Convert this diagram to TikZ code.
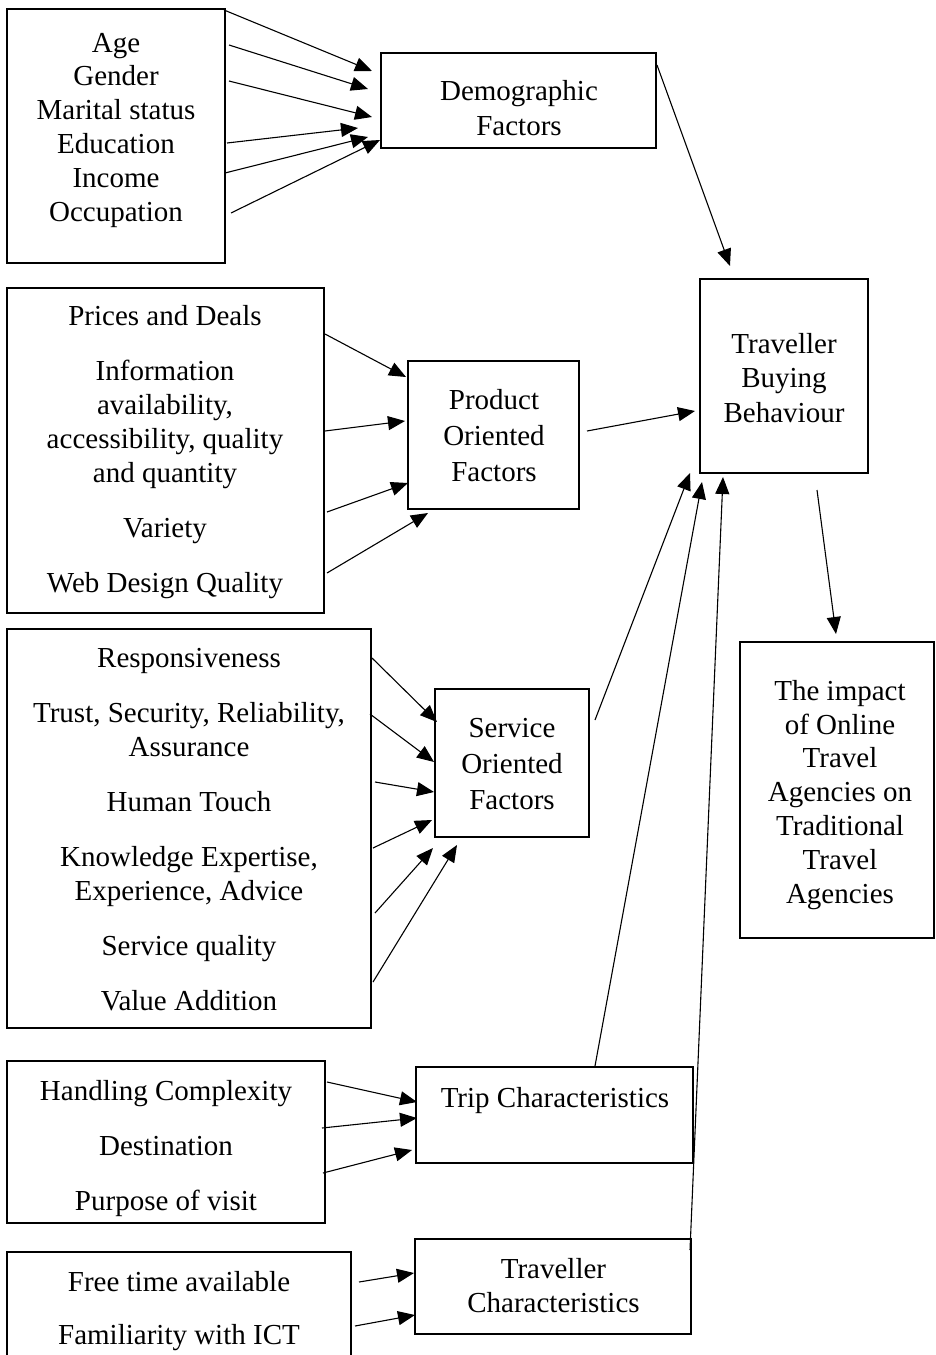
\documentclass[tikz,border=0pt]{standalone}
\usepackage{fontspec}
\setmainfont{Liberation Serif}
\usetikzlibrary{arrows.meta}
\begin{document}
\begin{tikzpicture}[x=1pt,y=-1pt,
  box/.style={draw,line width=1.6pt,inner sep=0pt,outer sep=0pt},
  txt/.style={align=center,inner sep=0pt,anchor=base,font=\fontsize{29}{33.8}\selectfont},
  txtw/.style={align=center,inner sep=0pt,anchor=base,font=\fontsize{29}{36}\selectfont},
  arr/.style={line width=1.1pt,-{Triangle[length=17pt,width=14pt]}}]
\clip (0,0) rectangle (935,1355);
\fill[white] (0,0) rectangle (935,1355);

% boxes
\node[box,minimum width=218pt,minimum height=254pt] (A) at (116,136) {};
\node[box,minimum width=275pt,minimum height=95pt] (D) at (518.5,100.5) {};
\node[box,minimum width=317pt,minimum height=325pt] (B) at (165.5,450.5) {};
\node[box,minimum width=171pt,minimum height=148pt] (P) at (493.5,435) {};
\node[box,minimum width=168pt,minimum height=194pt] (T) at (784,376) {};
\node[box,minimum width=194pt,minimum height=296pt] (I) at (837,790) {};
\node[box,minimum width=364pt,minimum height=399pt] (SL) at (189,828.5) {};
\node[box,minimum width=154pt,minimum height=148pt] (S) at (512,763) {};
\node[box,minimum width=318pt,minimum height=162pt] (TL) at (166,1142) {};
\node[box,minimum width=277pt,minimum height=96pt] (TR) at (554.5,1115) {};
\node[box,minimum width=344pt,minimum height=118pt] (VL) at (179,1311) {};
\node[box,minimum width=276pt,minimum height=95pt] (V) at (553,1286.5) {};

% texts (anchor = baseline of last line)
\node[txt] (Atxt) at (116,221) {Age\\Gender\\Marital status\\Education\\Income\\Occupation};
\node[txt,font=\fontsize{29}{35}\selectfont] (Dtxt) at (519,135) {Demographic\\Factors};
\node[txt] (Btxt) at (165,592) {Prices and Deals\\[21.2pt]Information\\availability,\\accessibility, quality\\and quantity\\[21.2pt]Variety\\[21.2pt]Web Design Quality};
\node[txtw] (Ptxt) at (494,481) {Product\\Oriented\\Factors};
\node[txt,font=\fontsize{29}{34.5}\selectfont] (Ttxt) at (784,422) {Traveller\\Buying\\Behaviour};
\node[txt] (Itxt) at (840,903) {The impact\\of Online\\Travel\\Agencies on\\Traditional\\Travel\\Agencies};
\node[txt] (SLtxt) at (189,1010) {Responsiveness\\[21.2pt]Trust, Security, Reliability,\\Assurance\\[21.2pt]Human Touch\\[21.2pt]Knowledge Expertise,\\Experience, Advice\\[21.2pt]Service quality\\[21.2pt]Value Addition};
\node[txtw] (Stxt) at (512,809) {Service\\Oriented\\Factors};
\node[txt] (TLtxt) at (166,1210) {Handling Complexity\\[21.2pt]Destination\\[21.2pt]Purpose of visit};
\node[txt] (TRtxt) at (555,1107) {Trip Characteristics};
\node[txt] (VLtxt) at (179,1344) {Free time available\\[19.2pt]Familiarity with ICT};
\node[txt,font=\fontsize{29}{34}\selectfont] (Vtxt) at (553.5,1312) {Traveller\\Characteristics};

% connector end points
\coordinate (a1s) at (224,10);  \coordinate (a1e) at (372,71);
\coordinate (a2s) at (229,45);  \coordinate (a2e) at (368,89);
\coordinate (a3s) at (229,81);  \coordinate (a3e) at (372,117);
\coordinate (a4s) at (227,143); \coordinate (a4e) at (358,128);
\coordinate (a5s) at (225,173); \coordinate (a5e) at (368,137);
\coordinate (a6s) at (231,213); \coordinate (a6e) at (380,140);

\coordinate (b1s) at (325,334); \coordinate (b1e) at (406,377);
\coordinate (b2s) at (325,431); \coordinate (b2e) at (405,421);
\coordinate (b3s) at (327,512); \coordinate (b3e) at (408,483);
\coordinate (b4s) at (327,573); \coordinate (b4e) at (428,513);

\coordinate (pts) at (587,431); \coordinate (pte) at (695,411);
\coordinate (dts) at (657,65);  \coordinate (dte) at (730,266);
\coordinate (tis) at (817,490); \coordinate (tie) at (836,634);

\coordinate (s1s) at (372,658); \coordinate (s1e) at (437,722);
\coordinate (s2s) at (370,714); \coordinate (s2e) at (434,762);
\coordinate (s3s) at (375,782); \coordinate (s3e) at (434,792);
\coordinate (s4s) at (373,848); \coordinate (s4e) at (432,820);
\coordinate (s5s) at (375,913); \coordinate (s5e) at (433,848);
\coordinate (s6s) at (373,982); \coordinate (s6e) at (457,845);

\coordinate (sts) at (595,720);  \coordinate (ste) at (690,473);
\coordinate (rts) at (595,1066); \coordinate (rte) at (702,482);
\coordinate (vts) at (690,1250); \coordinate (vte) at (723,477);

\coordinate (t1s) at (327,1082); \coordinate (t1e) at (417,1102);
\coordinate (t2s) at (322,1128); \coordinate (t2e) at (417,1118);
\coordinate (t3s) at (323,1173); \coordinate (t3e) at (412,1150);

\coordinate (v1s) at (359,1282); \coordinate (v1e) at (414,1273);
\coordinate (v2s) at (355,1326); \coordinate (v2e) at (415,1315);

% connectors
\foreach \c in {a1,a2,a3,a4,a5,a6,b1,b2,b3,b4,pt,dt,ti,s1,s2,s3,s4,s5,s6,st,rt,vt,t1,t2,t3,v1,v2}
  \draw[arr] (\c s) -- (\c e);
\end{tikzpicture}
\end{document}
